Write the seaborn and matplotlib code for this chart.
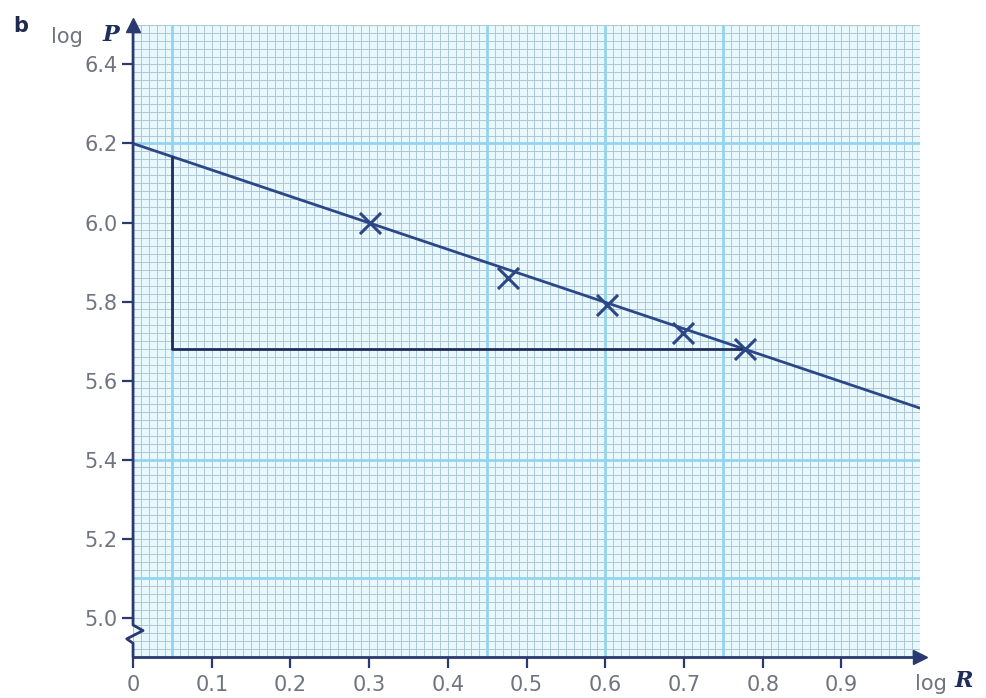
import numpy as np
import pandas as pd
import matplotlib
matplotlib.use("Agg")
import matplotlib.pyplot as plt
from matplotlib.ticker import MultipleLocator
import seaborn as sns

# ─── Data ─────────────────────────────────────────────────────────────────────

LOG_R = [0.301, 0.477, 0.602, 0.699, 0.778]
LOG_P = [6.00, 5.86, 5.79, 5.72, 5.68]

FIT_X = [0.0, 1.0]
FIT_Y = [6.20, 5.53]

# gradient triangle: vertical leg then horizontal leg
TRI_X = [0.05, 0.05, 0.778]
TRI_Y = [6.166, 5.68, 5.68]

X_TICKS = [0.0, 0.1, 0.2, 0.3, 0.4, 0.5, 0.6, 0.7, 0.8, 0.9]
X_LABELS = ["0", "0.1", "0.2", "0.3", "0.4", "0.5", "0.6", "0.7", "0.8", "0.9"]
Y_TICKS = [5.0, 5.2, 5.4, 5.6, 5.8, 6.0, 6.2, 6.4]
Y_LABELS = ["5.0", "5.2", "5.4", "5.6", "5.8", "6.0", "6.2", "6.4"]

# heavier printed lines on the graph paper
PAPER_VLINES = [0.05, 0.45, 0.60, 0.75]
PAPER_HLINES = [5.1, 5.4, 6.2]

# ─── Style ────────────────────────────────────────────────────────────────────

NAVY = "#2c4788"
AXIS = "#2a3a70"
GREY = "#70747f"
PAPER = "#e8f8fd"
MINOR = "#a9c4d4"
MAJOR = "#94d3ef"

sns.set_style("white")
plt.rcParams["font.family"] = ["DejaVu Sans"]

fig = plt.figure(figsize=(9.87, 6.98), dpi=100)
ax = fig.add_axes([0.1348, 0.0587, 0.7974, 0.9055])
ax.set_facecolor(PAPER)
ax.set_xlim(0, 1.0)
ax.set_ylim(4.9, 6.5)

# graph paper
ax.xaxis.set_minor_locator(MultipleLocator(0.01))
ax.yaxis.set_minor_locator(MultipleLocator(0.02))
ax.grid(which="both", color=MINOR, lw=0.65, zorder=0)
ax.set_axisbelow(True)
for xv in PAPER_VLINES:
    ax.axvline(xv, color=MAJOR, lw=2.0, zorder=1)
for yv in PAPER_HLINES:
    ax.axhline(yv, color=MAJOR, lw=2.0, zorder=1)

# best-fit line, triangle and points
fit = pd.DataFrame({"x": FIT_X, "y": FIT_Y})
sns.lineplot(data=fit, x="x", y="y", ax=ax, color=NAVY, lw=2.0, zorder=3)
ax.plot(TRI_X, TRI_Y, color="#1f2d5c", lw=2.0, zorder=3)
pts = pd.DataFrame({"logR": LOG_R, "logP": LOG_P})
sns.scatterplot(data=pts, x="logR", y="logP", ax=ax, marker="x", s=230,
                color=NAVY, linewidth=2.2, zorder=4)

# axes
ax.set_xlabel("")
ax.set_ylabel("")
for side in ["top", "right", "left"]:
    ax.spines[side].set_visible(False)
ax.spines["bottom"].set_color(AXIS)
ax.spines["bottom"].set_linewidth(2)

# left spine with axis-break zigzag
ax.plot([0, 0, 0.0127, -0.008, 0, 0], [6.5, 4.981, 4.967, 4.946, 4.935, 4.9],
        color=AXIS, lw=2, clip_on=False, zorder=5)
ax.plot([0], [1.0], marker="^", ms=10, color=AXIS, transform=ax.transAxes,
        clip_on=False, zorder=6)
ax.plot([1.0], [0], marker=">", ms=10, color=AXIS, transform=ax.transAxes,
        clip_on=False, zorder=6)

ax.set_xticks(X_TICKS)
ax.set_xticklabels(X_LABELS)
ax.set_yticks(Y_TICKS)
ax.set_yticklabels(Y_LABELS)
ax.tick_params(which="major", length=8, width=1.6, color=AXIS,
               labelsize=15, labelcolor=GREY, pad=4)
ax.tick_params(which="minor", length=0)
ax.tick_params(axis="x", bottom=True, pad=5)
ax.tick_params(axis="y", left=True, pad=3)

# axis titles
fig.text(0.013, 0.963, "b", fontsize=15, color="#1f2a50", fontweight="bold",
         ha="left", va="center")
fig.text(0.052, 0.947, "log", fontsize=15, color=GREY, ha="left", va="center")
fig.text(0.104, 0.950, "P", fontsize=16, color="#1f2d5c", fontweight="bold",
         fontstyle="italic", family="DejaVu Serif", ha="left", va="center")
fig.text(0.927, 0.020, "log", fontsize=15, color=GREY, ha="left", va="center")
fig.text(0.967, 0.024, "R", fontsize=16, color="#1f2d5c", fontweight="bold",
         fontstyle="italic", family="DejaVu Serif", ha="left", va="center")

fig.savefig("out.png", dpi=100)
plt.close(fig)
